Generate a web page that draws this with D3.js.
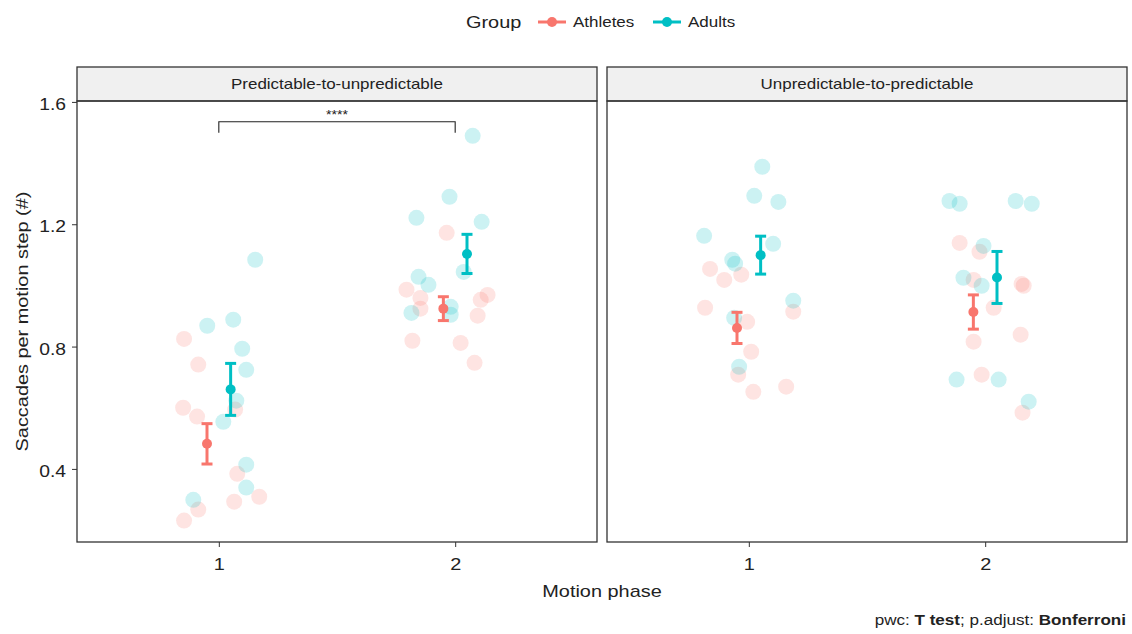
<!DOCTYPE html>
<html>
<head>
<meta charset="utf-8">
<script src="https://cdn.jsdelivr.net/npm/d3@7"></script>
<style>
  body { margin: 0; background: #fff; }
  svg { display: block; font-family: "Liberation Sans", Arial, sans-serif; }
</style>
</head>
<body>
<svg id="chart" width="1132" height="634"></svg>
<script>
// ---- data -------------------------------------------------------------
const panels = ["Predictable-to-unpredictable", "Unpredictable-to-predictable"];
const groups = ["Athletes", "Adults"];
const groupColors = ["#F8766D", "#00BFC4"];
const phaseTicks = [1, 2];
const valueTicks = [0.4, 0.8, 1.2, 1.6];

// individual observations (jittered phase position, value), phase 1 then phase 2
const predAthletesPhase = [0.853, 0.913, 0.849, 0.908, 1.069, 1.078, 1.171, 1.065, 0.913, 0.853,
                           1.964, 1.794, 1.853, 1.853, 2.108, 2.137, 2.095, 1.819, 2.023, 2.082];
const predAthletesValue = [0.825, 0.741, 0.600, 0.571, 0.594, 0.384, 0.309, 0.293, 0.267, 0.231,
                           1.172, 0.986, 0.959, 0.924, 0.953, 0.969, 0.901, 0.819, 0.812, 0.747];
const predAdultsPhase   = [0.951, 1.061, 1.154, 1.099, 1.116, 1.074, 1.019, 1.116, 1.116, 0.892,
                           2.074, 1.976, 1.836, 2.112, 2.036, 1.845, 1.887, 1.815, 1.981, 1.981];
const predAdultsValue   = [0.868, 0.888, 1.084, 0.793, 0.724, 0.623, 0.554, 0.414, 0.339, 0.299,
                           1.489, 1.290, 1.221, 1.208, 1.044, 1.028, 1.002, 0.910, 0.930, 0.904];
const unpredAthletesPhase = [0.836, 0.896, 0.968, 0.815, 0.993, 1.188, 1.010, 0.955, 1.019, 1.158,
                             1.892, 1.976, 1.951, 2.163, 2.154, 2.036, 1.951, 2.150, 1.985, 2.158];
const unpredAthletesValue = [1.054, 1.018, 1.035, 0.927, 0.881, 0.914, 0.783, 0.708, 0.652, 0.669,
                             1.139, 1.110, 1.018, 0.999, 1.005, 0.927, 0.816, 0.839, 0.708, 0.584];
const unpredAdultsPhase   = [1.057, 1.023, 1.125, 0.811, 1.103, 0.930, 0.942, 1.188, 0.938, 0.959,
                             1.849, 1.892, 2.129, 2.197, 1.993, 1.908, 1.985, 1.879, 2.057, 2.184];
const unpredAdultsValue   = [1.388, 1.293, 1.273, 1.162, 1.136, 1.084, 1.071, 0.950, 0.894, 0.734,
                             1.276, 1.267, 1.276, 1.267, 1.129, 1.025, 0.999, 0.692, 0.692, 0.620];

// group means and standard errors, [panel][phase]
const meanAthletes = [[0.482, 0.924], [0.861, 0.913]];
const seAthletes   = [[0.066, 0.039], [0.051, 0.056]];
const meanAdults   = [[0.660, 1.103], [1.099, 1.026]];
const seAdults     = [[0.085, 0.064], [0.062, 0.085]];

// pairwise comparison shown in the first panel
const bracketPanel = 0;
const bracketFrom = 1, bracketTo = 2;
const bracketValue = 1.535;
const bracketLabel = "****";

// ---- layout -----------------------------------------------------------
const svg = d3.select("#chart");
const panelX = [77, 607];
const panelW = 520;
const stripTop = 67, plotTop = 101, plotBottom = 542;
const dodge = 0.05;
const ink = "#222";
const wide = 1.17;   // horizontal glyph stretch for all labels

const x = d3.scaleLinear().domain([0.4, 2.6]).range([0, panelW]);
const y = d3.scaleLinear().domain([0.161, 1.603]).range([plotBottom, plotTop]);

// text placed at (tx, ty), optionally rotated, stretched along its baseline
function label(parent, tx, ty, str, size, anchor = "start", rot = 0) {
  return parent.append("text")
    .attr("transform", `translate(${tx},${ty})${rot ? ` rotate(${rot})` : ""} scale(${wide},1)`)
    .attr("text-anchor", anchor).attr("font-size", size).attr("fill", ink).text(str);
}
function stretchTicks(axisG, size, dy) {
  axisG.selectAll(".tick text").each(function () {
    const t = d3.select(this);
    const tx = +t.attr("x") || 0, ty = +t.attr("y") || 0;
    t.attr("x", 0).attr("y", 0).attr("dy", dy)
      .attr("transform", `translate(${tx},${ty}) scale(${wide},1)`)
      .attr("font-size", size).attr("fill", ink);
  });
  axisG.attr("font-family", null).attr("font-size", null);
}

const observations = [
  [[predAthletesPhase, predAthletesValue], [predAdultsPhase, predAdultsValue]],
  [[unpredAthletesPhase, unpredAthletesValue], [unpredAdultsPhase, unpredAdultsValue]]
];
const means = [meanAthletes, meanAdults];
const ses = [seAthletes, seAdults];

panels.forEach((name, p) => {
  const g = svg.append("g").attr("transform", `translate(${panelX[p]},0)`);

  // strip
  g.append("rect").attr("x", 0).attr("y", stripTop).attr("width", panelW)
    .attr("height", plotTop - stripTop).attr("fill", "#f0f0f0")
    .attr("stroke", "#333").attr("stroke-width", 1.3);
  label(g, panelW / 2, (stripTop + plotTop) / 2 + 5, name, 14.5, "middle");

  // raw observations
  groups.forEach((grp, gi) => {
    const [px, pv] = observations[p][gi];
    g.append("g").selectAll("circle").data(pv).join("circle")
      .attr("cx", (d, i) => x(px[i]))
      .attr("cy", d => y(d))
      .attr("r", 8)
      .attr("fill", groupColors[gi])
      .attr("fill-opacity", 0.2);
  });

  // mean ± SE
  groups.forEach((grp, gi) => {
    const off = gi === 0 ? -dodge : dodge;
    const eg = g.append("g").attr("stroke", groupColors[gi]).attr("fill", groupColors[gi]);
    phaseTicks.forEach((ph, k) => {
      const m = means[gi][p][k], s = ses[gi][p][k];
      const cx = x(ph + off);
      eg.append("line").attr("x1", cx).attr("x2", cx).attr("y1", y(m - s)).attr("y2", y(m + s))
        .attr("stroke-width", 3);
      [m - s, m + s].forEach(v => {
        eg.append("line").attr("x1", cx - 5.5).attr("x2", cx + 5.5).attr("y1", y(v)).attr("y2", y(v))
          .attr("stroke-width", 3);
      });
      eg.append("circle").attr("cx", cx).attr("cy", y(m)).attr("r", 5).attr("stroke", "none");
    });
  });

  // bracket
  if (p === bracketPanel) {
    const tip = 0.036;
    const bx1 = x(bracketFrom), bx2 = x(bracketTo), by = y(bracketValue);
    g.append("path")
      .attr("d", `M${bx1},${y(bracketValue - tip)}V${by}H${bx2}V${y(bracketValue - tip)}`)
      .attr("fill", "none").attr("stroke", ink).attr("stroke-width", 1.1);
    label(g, (bx1 + bx2) / 2, by - 3, bracketLabel, 12, "middle");
  }

  // panel border
  g.append("rect").attr("x", 0).attr("y", plotTop).attr("width", panelW)
    .attr("height", plotBottom - plotTop).attr("fill", "none")
    .attr("stroke", "#333").attr("stroke-width", 1.3);

  // x axis
  const xa = g.append("g").attr("transform", `translate(0,${plotBottom})`)
    .call(d3.axisBottom(x).tickValues(phaseTicks).tickFormat(d3.format("d")).tickSize(5).tickPadding(11));
  xa.select(".domain").remove();
  xa.selectAll("line").attr("stroke", "#333");
  stretchTicks(xa, 17, "0.71em");

  // y axis on the first panel only
  if (p === 0) {
    const ya = g.append("g")
      .call(d3.axisLeft(y).tickValues(valueTicks).tickFormat(d3.format(".1f")).tickSize(5).tickPadding(6));
    ya.select(".domain").remove();
    ya.selectAll("line").attr("stroke", "#333");
    stretchTicks(ya, 16.5, "0.45em");
  }
});

// axis titles
label(svg, (panelX[0] + panelX[1] + panelW) / 2, 597, "Motion phase", 17, "middle");
label(svg, 28, (plotTop + plotBottom) / 2, "Saccades per motion step (#)", 17, "middle", -90);

// legend
const legend = svg.append("g");
label(legend, 466, 28, "Group", 17);
const legendX = [538, 653];
groups.forEach((grp, gi) => {
  const lx = legendX[gi];
  legend.append("line").attr("x1", lx).attr("x2", lx + 28).attr("y1", 22).attr("y2", 22)
    .attr("stroke", groupColors[gi]).attr("stroke-width", 3);
  legend.append("circle").attr("cx", lx + 14).attr("cy", 22).attr("r", 5).attr("fill", groupColors[gi]);
  label(legend, lx + 35, 27, grp, 14.5);
});

// caption
const cap = label(svg, 1126, 625, "", 14.6, "end");
cap.append("tspan").text("pwc: ");
cap.append("tspan").attr("font-weight", "bold").text("T test");
cap.append("tspan").text("; p.adjust: ");
cap.append("tspan").attr("font-weight", "bold").text("Bonferroni");
</script>
</body>
</html>
